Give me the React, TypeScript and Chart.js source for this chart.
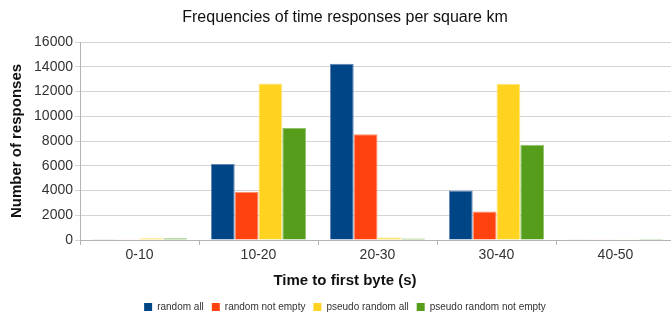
import React, { useEffect, useRef } from "react";
import { Chart, registerables } from "chart.js";

Chart.register(...registerables);

const chartTitle = "Frequencies of time responses per square km";
const xTitle = "Time to first byte (s)";
const yTitle = "Number of responses";

const categories = ["0-10", "10-20", "20-30", "30-40", "40-50"];
const randomAll = [20, 6150, 14250, 4000, 30];
const randomNotEmpty = [30, 3900, 8550, 2300, 30];
const pseudoRandomAll = [150, 12650, 200, 12600, 60];
const pseudoRandomNotEmpty = [150, 9050, 120, 7700, 90];

const seriesNames = ["random all", "random not empty", "pseudo random all", "pseudo random not empty"];
const seriesValues = [randomAll, randomNotEmpty, pseudoRandomAll, pseudoRandomNotEmpty];
const seriesColors = ["#004586", "#ff420e", "#ffd320", "#579d1c"];
const seriesBorders = ["#5f86b3", "#ff8f70", "#ffe575", "#94c26c"];

const yMin = 0;
const yMax = 16000;
const yStep = 2000;

const FONT = "'Liberation Sans', Arial, sans-serif";

export default function App() {
  const ref = useRef<HTMLCanvasElement | null>(null);

  useEffect(() => {
    if (!ref.current) return;
    document.body.style.margin = "0";
    const chart = new Chart(ref.current, {
      type: "bar",
      data: {
        labels: categories,
        datasets: seriesNames.map((name, i) => ({
          label: name,
          data: seriesValues[i],
          backgroundColor: seriesColors[i],
          borderColor: seriesBorders[i],
          borderWidth: 1,
          categoryPercentage: 0.8,
          barPercentage: 1.0,
        })),
      },
      options: {
        responsive: false,
        animation: false,
        devicePixelRatio: 1,
        layout: { padding: { left: 0, right: 0, top: 0, bottom: -4 } },
        font: { family: FONT },
        plugins: {
          title: {
            display: true,
            text: chartTitle,
            color: "#111",
            font: { family: FONT, size: 16, weight: "normal" },
            padding: { top: 8, bottom: 14.8 },
          },
          subtitle: {
            display: true,
            text: xTitle,
            position: "bottom",
            weight: 500,
            color: "#111",
            font: { family: FONT, size: 15, weight: "bold" },
            padding: { top: 7.5, bottom: 4.5 },
          } as any,
          legend: {
            display: true,
            position: "bottom",
            labels: {
              boxWidth: 8,
              boxHeight: 8,
              padding: 8,
              color: "#333",
              font: { family: FONT, size: 10 },
              generateLabels: (c: any) =>
                c.data.datasets.map((ds: any, i: number) => ({
                  text: ds.label,
                  fillStyle: seriesColors[i],
                  strokeStyle: seriesColors[i],
                  lineWidth: 0,
                  hidden: false,
                  datasetIndex: i,
                  fontColor: "#333",
                })),
            },
          },
          tooltip: { enabled: false },
        },
        scales: {
          x: {
            offset: true,
            grid: {
              display: true,
              offset: true,
              drawOnChartArea: false,
              drawTicks: true,
              tickLength: 5,
              color: "#b3b3b3",
            },
            border: { display: true, color: "#b3b3b3" },
            ticks: {
              color: "#333",
              padding: 2,
              font: { family: FONT, size: 14 },
            },
            afterFit: (s: any) => {
              s.height = 24;
            },
          },
          y: {
            min: yMin,
            max: yMax,
            ticks: {
              stepSize: yStep,
              color: "#333",
              padding: 2,
              font: { family: FONT, size: 14 },
              callback: (v: any) => String(v),
            },
            grid: {
              color: "#d4d4d4",
              drawTicks: true,
              tickLength: 5,
            },
            border: { display: true, color: "#b3b3b3" },
            title: {
              display: true,
              text: yTitle,
              color: "#111",
              font: { family: FONT, size: 15, weight: "bold" },
              padding: { top: 8, bottom: 0 },
            },
            afterFit: (s: any) => {
              s.width = 80;
            },
          },
          yRight: {
            type: "linear",
            position: "right",
            display: true,
            grid: { display: false, drawTicks: false },
            border: { display: false },
            ticks: { display: false },
            afterFit: (s: any) => {
              s.width = 15;
            },
          },
        },
      } as any,
    });
    return () => chart.destroy();
  }, []);

  return (
    <div
      style={{
        position: "fixed",
        left: 0,
        top: 0,
        width: 671,
        height: 318,
        overflow: "hidden",
        background: "#fff",
      }}
    >
      <canvas ref={ref} width={690} height={318} style={{ display: "block", width: 690, height: 318 }} />
    </div>
  );
}
